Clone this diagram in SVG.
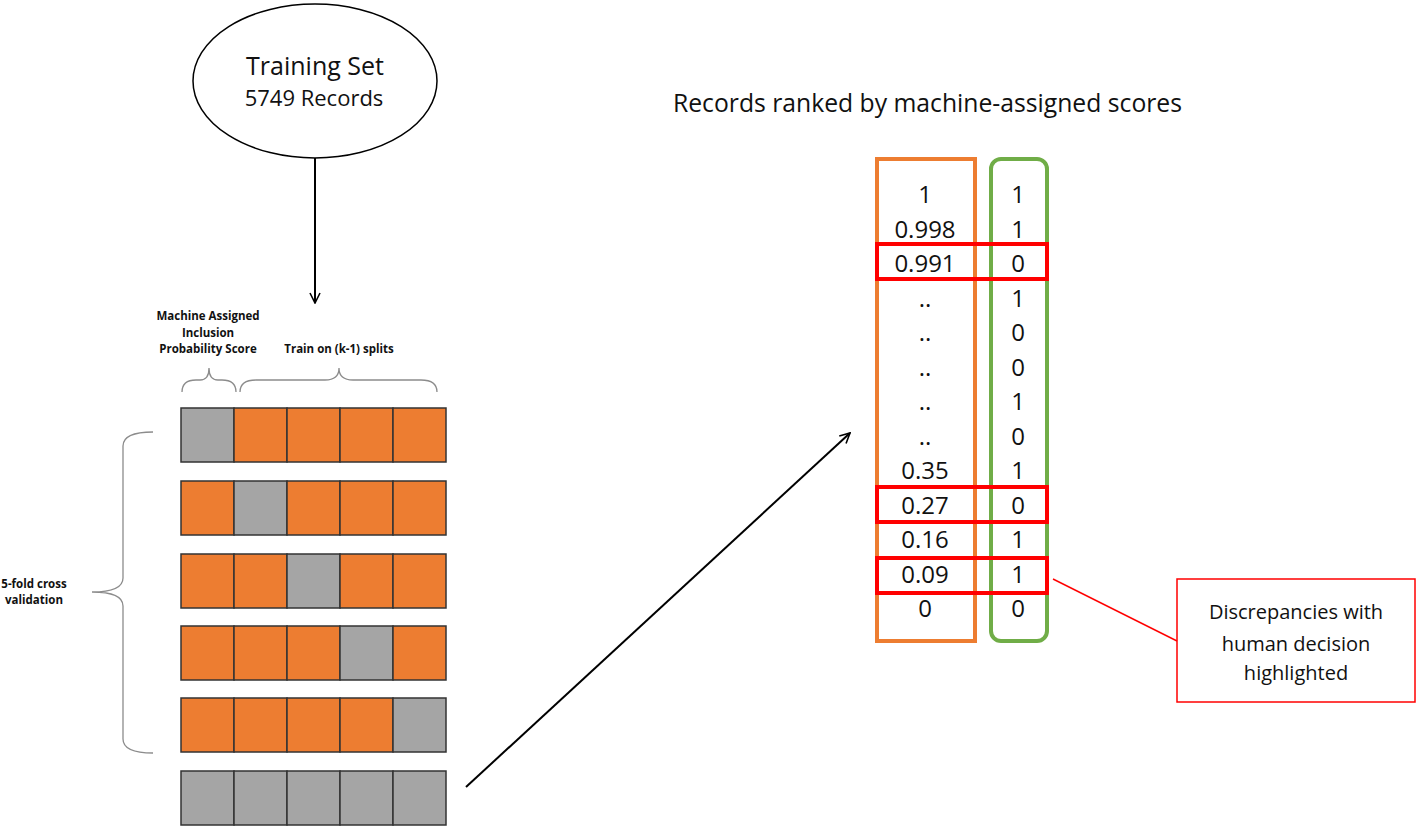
<svg xmlns="http://www.w3.org/2000/svg" width="1418" height="828" viewBox="0 0 1418 828">
<defs>
<style>
.t{font-family:"Open Sans","Liberation Sans",sans-serif;fill:#111}
.b{font-family:"Open Sans","Liberation Sans",sans-serif;font-weight:bold;font-size:11.5px;fill:#111;text-anchor:middle}
.v{font-family:"Open Sans","Liberation Sans",sans-serif;font-size:24px;fill:#111;text-anchor:middle}
.o{fill:#ED7D31;stroke:#333;stroke-width:1.5}
.g{fill:#A5A5A5;stroke:#333;stroke-width:1.5}
.brace{fill:none;stroke:#8c8c8c;stroke-width:1.3}
.hl{fill:none;stroke:#FF0000;stroke-width:4}
</style>
<marker id="arr" viewBox="0 0 12 12" refX="11" refY="6" markerWidth="12" markerHeight="12" markerUnits="userSpaceOnUse" orient="auto">
<path d="M1,1 L11,6 L1,11" fill="none" stroke="#000" stroke-width="1.6"/>
</marker>
</defs>
<rect width="1418" height="828" fill="#fff"/>

<g id="training-set">
<ellipse cx="315" cy="81" rx="122" ry="77" fill="#fff" stroke="#000" stroke-width="1.5"/>
<text class="t" x="315" y="75" font-size="25" text-anchor="middle">Training Set</text>
<text class="t" x="314" y="106" font-size="22" text-anchor="middle">5749 Records</text>
</g>

<g id="labels">
<text class="b" x="208" y="320">Machine Assigned</text>
<text class="b" x="208" y="337">Inclusion</text>
<text class="b" x="208" y="353">Probability Score</text>
<text class="b" x="339" y="353">Train on (k-1) splits</text>
<text class="b" x="34" y="588">5-fold cross</text>
<text class="b" x="34" y="604">validation</text>
<path class="brace" d="M182,392 Q182,380 196,380 L200,380 Q209,380 209,368 Q209,380 218,380 L222,380 Q236,380 236,392"/>
<path class="brace" d="M240,392 Q240,380 256,380 L325,380 Q339,380 339,368 Q339,380 353,380 L421,380 Q437,380 437,392"/>
<path class="brace" d="M153,432 Q123,432 123,446 L123,578 Q123,592 92,592 Q123,592 123,606 L123,739 Q123,753 153,753"/>
</g>

<g id="folds">
<g id="fold1">
<rect class="g" x="181" y="408" width="53" height="54"/><rect class="o" x="234" y="408" width="53" height="54"/><rect class="o" x="287" y="408" width="53" height="54"/><rect class="o" x="340" y="408" width="53" height="54"/><rect class="o" x="393" y="408" width="53" height="54"/>
</g>
<g id="fold2">
<rect class="o" x="181" y="481" width="53" height="54"/><rect class="g" x="234" y="481" width="53" height="54"/><rect class="o" x="287" y="481" width="53" height="54"/><rect class="o" x="340" y="481" width="53" height="54"/><rect class="o" x="393" y="481" width="53" height="54"/>
</g>
<g id="fold3">
<rect class="o" x="181" y="554" width="53" height="54"/><rect class="o" x="234" y="554" width="53" height="54"/><rect class="g" x="287" y="554" width="53" height="54"/><rect class="o" x="340" y="554" width="53" height="54"/><rect class="o" x="393" y="554" width="53" height="54"/>
</g>
<g id="fold4">
<rect class="o" x="181" y="626" width="53" height="54"/><rect class="o" x="234" y="626" width="53" height="54"/><rect class="o" x="287" y="626" width="53" height="54"/><rect class="g" x="340" y="626" width="53" height="54"/><rect class="o" x="393" y="626" width="53" height="54"/>
</g>
<g id="fold5">
<rect class="o" x="181" y="698" width="53" height="54"/><rect class="o" x="234" y="698" width="53" height="54"/><rect class="o" x="287" y="698" width="53" height="54"/><rect class="o" x="340" y="698" width="53" height="54"/><rect class="g" x="393" y="698" width="53" height="54"/>
</g>
<g id="scores-row">
<rect class="g" x="181" y="771" width="53" height="54"/><rect class="g" x="234" y="771" width="53" height="54"/><rect class="g" x="287" y="771" width="53" height="54"/><rect class="g" x="340" y="771" width="53" height="54"/><rect class="g" x="393" y="771" width="53" height="54"/>
</g>
</g>

<g id="ranked">
<text class="t" x="927.5" y="112" font-size="25" text-anchor="middle" textLength="509" lengthAdjust="spacingAndGlyphs">Records ranked by machine-assigned scores</text>
<rect x="877" y="159" width="98" height="482" fill="none" stroke="#ED7D31" stroke-width="4"/>
<rect x="991" y="159" width="56" height="482" rx="10" fill="none" stroke="#70AD47" stroke-width="4"/>
<g class="v">
<text x="925" y="203">1</text>
<text x="925" y="237.5">0.998</text>
<text x="925" y="272">0.991</text>
<text x="925" y="306.5">..</text>
<text x="925" y="341">..</text>
<text x="925" y="375.5">..</text>
<text x="925" y="410">..</text>
<text x="925" y="444.5">..</text>
<text x="925" y="479">0.35</text>
<text x="925" y="513.5">0.27</text>
<text x="925" y="548">0.16</text>
<text x="925" y="582.5">0.09</text>
<text x="925" y="617">0</text>
<text x="1018" y="203">1</text>
<text x="1018" y="237.5">1</text>
<text x="1018" y="272">0</text>
<text x="1018" y="306.5">1</text>
<text x="1018" y="341">0</text>
<text x="1018" y="375.5">0</text>
<text x="1018" y="410">1</text>
<text x="1018" y="444.5">0</text>
<text x="1018" y="479">1</text>
<text x="1018" y="513.5">0</text>
<text x="1018" y="548">1</text>
<text x="1018" y="582.5">1</text>
<text x="1018" y="617">0</text>
</g>
<rect class="hl" x="877" y="244" width="170" height="35"/>
<rect class="hl" x="877" y="487" width="170" height="35"/>
<rect class="hl" x="877" y="558" width="170" height="35"/>
</g>

<g id="callout">
<rect x="1177" y="579" width="238" height="123" fill="#fff" stroke="#FF0000" stroke-width="1.5"/>
<text class="t" x="1296" y="619" font-size="20" text-anchor="middle">Discrepancies with</text>
<text class="t" x="1296" y="651" font-size="20" text-anchor="middle">human decision</text>
<text class="t" x="1296" y="680" font-size="20" text-anchor="middle">highlighted</text>
</g>

<g id="connectors">
<line x1="315" y1="158" x2="315" y2="303" stroke="#000" stroke-width="2" marker-end="url(#arr)"/>
<line x1="466" y1="787" x2="850" y2="433" stroke="#000" stroke-width="2" marker-end="url(#arr)"/>
<line x1="1053" y1="579" x2="1177" y2="641" stroke="#FF0000" stroke-width="1.5"/>
</g>
</svg>
